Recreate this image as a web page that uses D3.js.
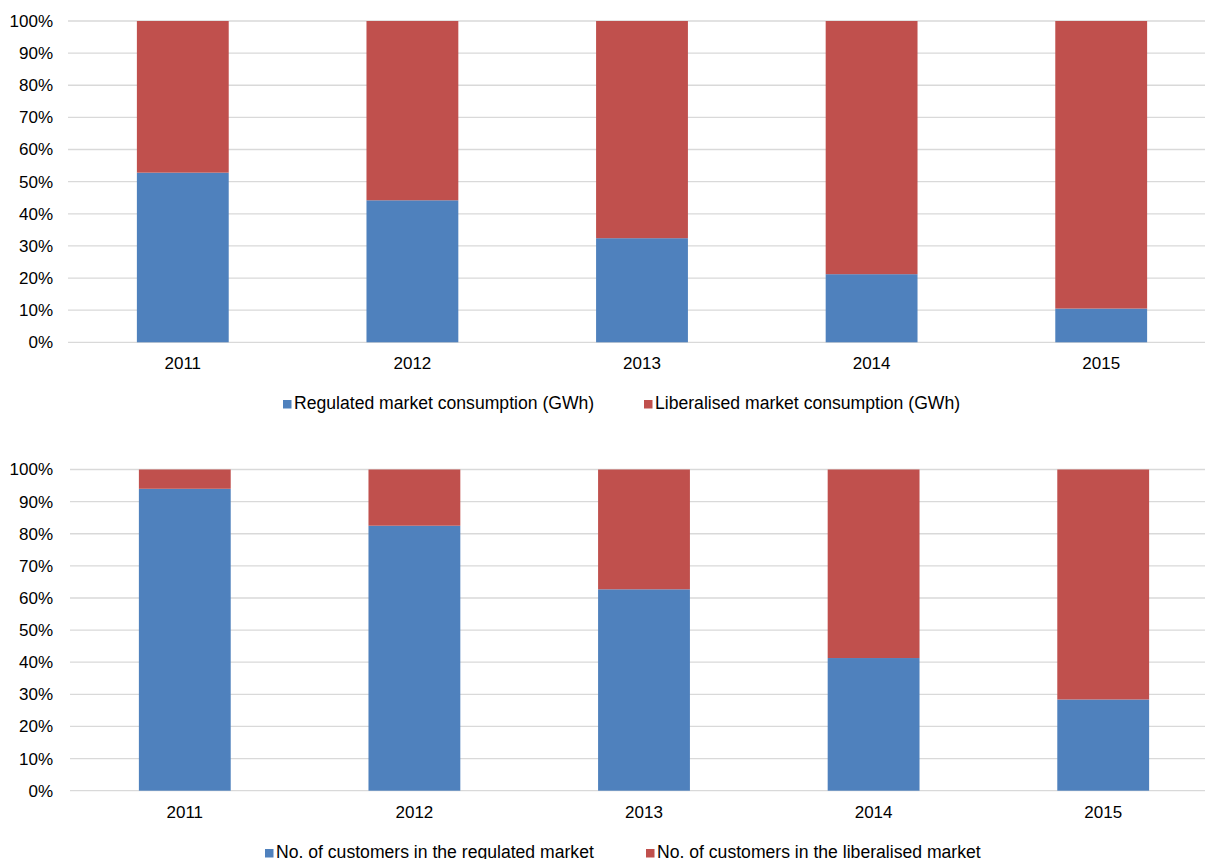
<!DOCTYPE html>
<html><head><meta charset="utf-8">
<script src="https://cdn.jsdelivr.net/npm/d3@7"></script>
<style>html,body{margin:0;padding:0;background:#fff;overflow:hidden}</style>
</head><body>
<script>
const years = ["2011","2012","2013","2014","2015"];
const consumptionRegulated = [52.8, 44.2, 32.4, 21.2, 10.5];
const consumptionLiberalised = [47.2, 55.8, 67.6, 78.8, 89.5];
const customersRegulated = [94.0, 82.5, 62.7, 41.3, 28.4];
const customersLiberalised = [6.0, 17.5, 37.3, 58.7, 71.6];
const yTicks = [0,10,20,30,40,50,60,70,80,90,100];
const legendTop = ["Regulated market consumption (GWh)", "Liberalised market consumption (GWh)"];
const legendBottom = ["No. of customers in the regulated market", "No. of customers in the liberalised market"];
const colors = ["#4F81BD", "#C0504D"];

const W = 1205, H = 859;
const svg = d3.select("body").append("svg").attr("width", W).attr("height", H)
  .style("font-family", "Arial, 'Liberation Sans', sans-serif");

function panel(cfg) {
  const g = svg.append("g");
  const x = d3.scaleBand().domain(years).range([cfg.left, cfg.left + 1148]).paddingInner(0.6).paddingOuter(0.3);
  const y = d3.scaleLinear().domain([0, 100]).range([cfg.bottom, cfg.top]);
  g.selectAll("line.grid").data(yTicks).join("line")
    .attr("x1", cfg.left).attr("x2", cfg.left + 1148)
    .attr("y1", d => y(d)).attr("y2", d => y(d))
    .attr("stroke", "#d9d9d9").attr("stroke-width", 1.3);
  g.selectAll("text.yl").data(yTicks).join("text")
    .attr("x", 53).attr("y", d => y(d)).attr("dy", "0.35em")
    .attr("text-anchor", "end").attr("font-size", 17).attr("fill", "#000")
    .text(d => d + "%");
  const stacked = years.map((yr, i) => ({yr, a: cfg.s1[i], b: cfg.s2[i]}));
  g.selectAll("rect.a").data(stacked).join("rect")
    .attr("x", d => x(d.yr)).attr("width", x.bandwidth())
    .attr("y", d => y(d.a)).attr("height", d => y(0) - y(d.a))
    .attr("fill", colors[0]);
  g.selectAll("rect.b").data(stacked).join("rect")
    .attr("x", d => x(d.yr)).attr("width", x.bandwidth())
    .attr("y", d => y(d.a + d.b)).attr("height", d => y(d.a) - y(d.a + d.b))
    .attr("fill", colors[1]);
  g.selectAll("text.xl").data(years).join("text")
    .attr("x", d => x(d) + x.bandwidth() / 2).attr("y", cfg.bottom + 27)
    .attr("text-anchor", "middle").attr("font-size", 17).attr("fill", "#000")
    .text(d => d);
  cfg.legend.forEach((t, i) => {
    const lx = cfg.legX[i];
    g.append("rect").attr("x", lx).attr("y", cfg.legY - 9).attr("width", 8.5).attr("height", 8.5).attr("fill", colors[i]);
    g.append("text").attr("x", lx + 11).attr("y", cfg.legY).attr("font-size", 17.6).attr("fill", "#000").text(t);
  });
}

panel({left: 68, top: 21, bottom: 342.3, s1: consumptionRegulated, s2: consumptionLiberalised,
       legend: legendTop, legX: [283, 644], legY: 409});
panel({left: 70, top: 469.5, bottom: 790.7, s1: customersRegulated, s2: customersLiberalised,
       legend: legendBottom, legX: [265, 646], legY: 858});
</script>
</body></html>
